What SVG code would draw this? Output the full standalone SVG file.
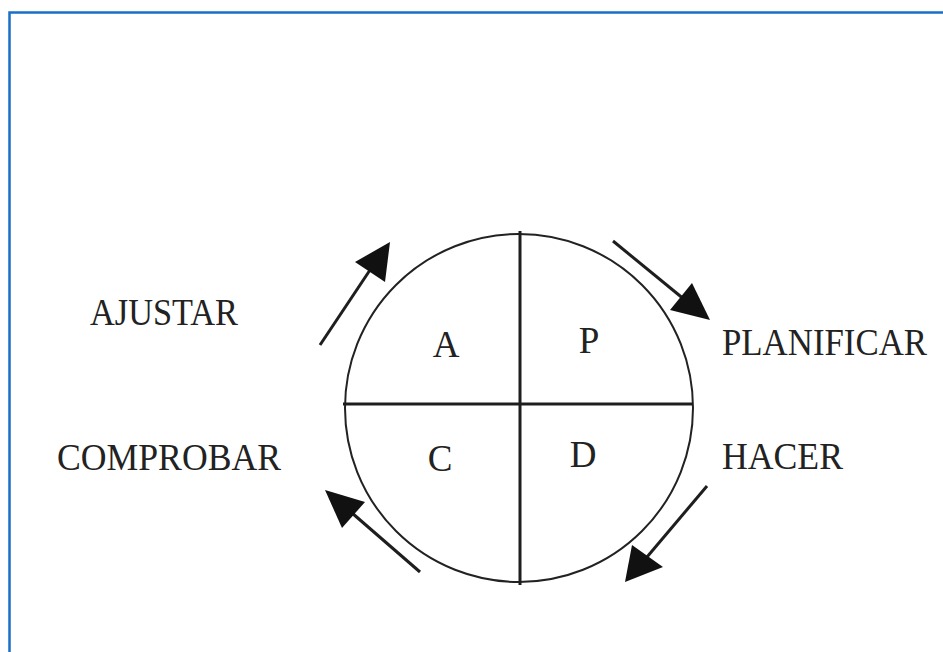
<svg xmlns="http://www.w3.org/2000/svg" width="943" height="652" viewBox="0 0 943 652">
<style>
.lbl{font-family:"Liberation Serif","Times New Roman",serif;font-size:37px;fill:#222}
.ln{stroke:#1e1e1e;stroke-width:3;fill:none}
.head{fill:#111}
</style>
<rect x="0" y="0" width="943" height="652" fill="#fff"/>
<path d="M9.5 660 V12.5 H950" fill="none" stroke="#1a6fc6" stroke-width="2.5"/>
<g id="cycle">
<circle cx="519" cy="408" r="174" fill="none" stroke="#222" stroke-width="2"/>
<line class="ln" x1="343" y1="404" x2="693" y2="404"/>
<line class="ln" x1="520" y1="231" x2="520" y2="585"/>
</g>
<g id="quadrants">
<text class="lbl" x="446" y="357" text-anchor="middle">A</text>
<text class="lbl" x="589" y="353" text-anchor="middle">P</text>
<text class="lbl" x="440" y="471" text-anchor="middle">C</text>
<text class="lbl" x="583" y="467" text-anchor="middle">D</text>
</g>
<g id="labels">
<text class="lbl" x="90" y="325" textLength="148" lengthAdjust="spacingAndGlyphs">AJUSTAR</text>
<text class="lbl" x="57" y="470" textLength="224" lengthAdjust="spacingAndGlyphs">COMPROBAR</text>
<text class="lbl" x="722" y="355" textLength="205" lengthAdjust="spacingAndGlyphs">PLANIFICAR</text>
<text class="lbl" x="722" y="469" textLength="121" lengthAdjust="spacingAndGlyphs">HACER</text>
</g>
<g id="connectors">
<line class="ln" x1="320" y1="345" x2="372" y2="267"/>
<polygon class="head" points="390,242 385,282 355,262"/>
<line class="ln" x1="613" y1="241" x2="685" y2="300"/>
<polygon class="head" points="710,320 670,310 692,283"/>
<line class="ln" x1="707" y1="486" x2="647" y2="557"/>
<polygon class="head" points="625,582 632,545 663,567"/>
<line class="ln" x1="420" y1="572" x2="352" y2="513"/>
<polygon class="head" points="325,490 365,502 342,528"/>
</g>
</svg>
